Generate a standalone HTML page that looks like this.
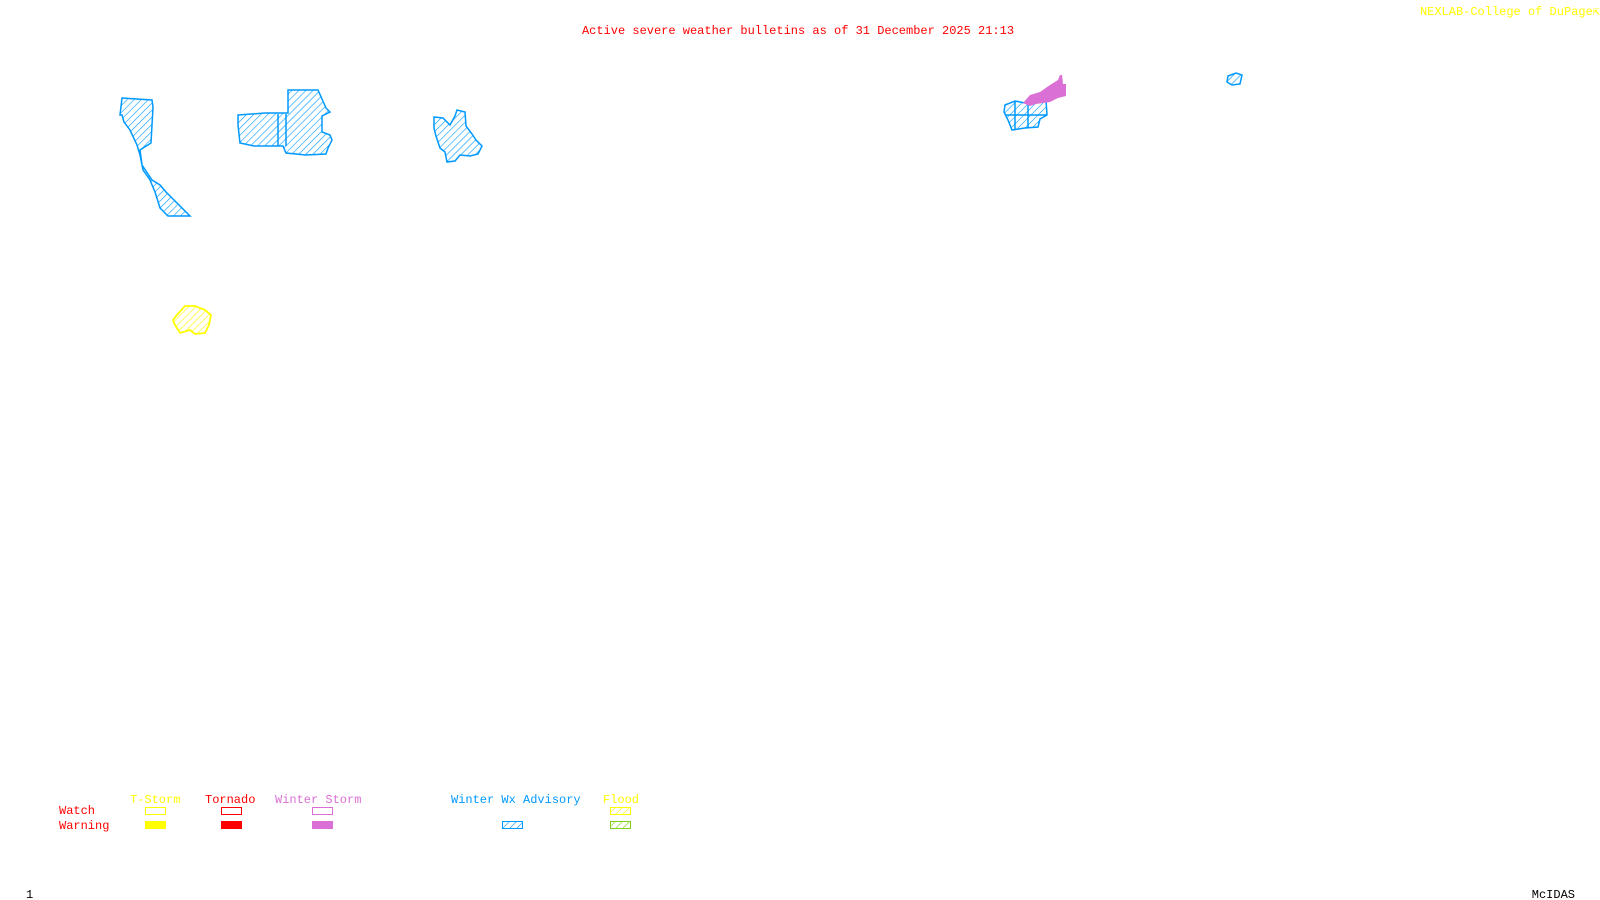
<!DOCTYPE html>
<html><head><meta charset="utf-8"><style>
html,body{margin:0;padding:0;background:#fff;width:1600px;height:900px;overflow:hidden}
svg{display:block}
text{font-family:"Liberation Mono",monospace;font-size:12px}
</style></head><body>
<svg width="1600" height="900" viewBox="0 0 1600 900">
<defs>
<pattern id="hb" width="5" height="5" patternUnits="userSpaceOnUse" patternTransform="rotate(45)"><line x1="0" y1="0" x2="0" y2="5" stroke="#0099ff" stroke-width="1.2"/></pattern>
<pattern id="hy" width="5" height="5" patternUnits="userSpaceOnUse" patternTransform="rotate(45)"><line x1="0" y1="0" x2="0" y2="5" stroke="#ffff00" stroke-width="1.2"/></pattern>
<pattern id="hg" width="5" height="5" patternUnits="userSpaceOnUse" patternTransform="rotate(45)"><line x1="0" y1="0" x2="0" y2="5" stroke="#80d020" stroke-width="1.2"/></pattern>
</defs>
<text x="798" y="34" fill="#ff0000" text-anchor="middle">Active severe weather bulletins as of 31 December 2025 21:13</text>
<text x="1600" y="15" fill="#ffff00" text-anchor="end">NEXLAB-College of DuPage⇱</text>

<g stroke="#0099ff" stroke-width="1.5" fill="url(#hb)">
<polygon points="122,98 152,100 153,107 151,143 140,150 142,165 152,180 160,185 166,192 190,216 168,216 160,208 155,192 150,180 143,170 140,155 137,145 130,130 124,122 122,115 120,115"/>
<polygon points="238,115 265,113 288,113 288,90 318,90 326,108 330,112 322,116 322,132 330,135 332,140 328,148 326,154 306,155 286,153 283,146 254,146 240,143 238,125"/>
<line x1="278" y1="114" x2="278" y2="146"/><line x1="286" y1="114" x2="286" y2="146"/>
<polygon points="434,117 443,118 450,125 455,116 457,110 465,112 466,126 472,134 476,140 482,146 478,154 470,156 460,155 455,161 447,162 445,152 440,148 436,136 434,128"/>
<polygon points="1005,105 1015,101 1025,103 1032,100 1046,100 1047,115 1040,119 1038,127 1025,128 1012,130 1008,120 1004,112"/>
<line x1="1015" y1="102" x2="1015" y2="130"/><line x1="1028" y1="100" x2="1028" y2="128"/><line x1="1006" y1="115" x2="1046" y2="115"/>
<polygon points="1228,76 1236,73 1242,75 1240,84 1232,85 1227,82"/>
</g>
<polygon points="1023,103 1030,95 1040,92 1050,85 1058,80 1060,75 1062,75 1063,84 1066,84 1066,96 1058,98 1050,102 1036,104 1030,106" fill="#da70d6"/>
<polygon points="176,316 185,306 195,306 205,310 211,315 209,325 205,333 195,334 190,330 180,333 175,325 173,320" stroke="#ffff00" stroke-width="1.8" fill="url(#hy)"/>

<g transform="translate(0,-6)">
<text x="130" y="809" fill="#ffff00">T-Storm</text>
<text x="205" y="809" fill="#ff0000">Tornado</text>
<text x="275" y="809" fill="#da70d6">Winter Storm</text>
<text x="451" y="809" fill="#0099ff">Winter Wx Advisory</text>
<text x="603" y="809" fill="#ffff00">Flood</text>
<text x="59" y="820" fill="#ff0000">Watch</text>
<text x="59" y="835" fill="#ff0000">Warning</text>
<rect x="145.5" y="813.5" width="20" height="7" fill="none" stroke="#ffff00"/>
<rect x="145" y="827" width="21" height="8" fill="#ffff00"/>
<rect x="221.5" y="813.5" width="20" height="7" fill="none" stroke="#ff0000"/>
<rect x="221" y="827" width="21" height="8" fill="#ff0000"/>
<rect x="312.5" y="813.5" width="20" height="7" fill="none" stroke="#da70d6"/>
<rect x="312" y="827" width="21" height="8" fill="#da70d6"/>
<rect x="502.5" y="827.5" width="20" height="7" fill="url(#hb)" stroke="#0099ff"/>
<rect x="610.5" y="813.5" width="20" height="7" fill="url(#hy)" stroke="#ffff00"/>
<rect x="610.5" y="827.5" width="20" height="7" fill="url(#hg)" stroke="#80d020"/>
</g>

<text x="26" y="898" fill="#000" font-size="11">1</text>
<text x="1575" y="898" fill="#000" text-anchor="end" font-size="11">McIDAS</text>
</svg>
</body></html>
